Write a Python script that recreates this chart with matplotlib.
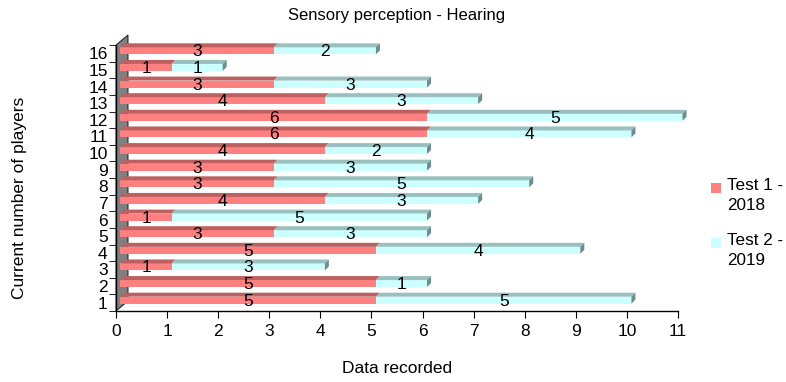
import matplotlib

matplotlib.use("Agg")
import matplotlib.pyplot as plt  # noqa: E402
from matplotlib.patches import Polygon, Rectangle  # noqa: E402
from matplotlib.transforms import IdentityTransform  # noqa: E402

plt.rcParams["font.family"] = ["Liberation Sans", "DejaVu Sans"]

players = list(range(1, 17))
test1_2018 = [5, 5, 1, 5, 3, 1, 4, 3, 3, 4, 6, 6, 4, 3, 1, 3]
test2_2019 = [5, 1, 3, 4, 3, 5, 3, 5, 3, 2, 4, 5, 3, 3, 1, 2]
series_names = ["Test 1 -\n2018", "Test 2 -\n2019"]

front_colors = ["#ff8080", "#ccffff"]
top_colors = ["#bf6060", "#99bfbf"]
side_colors = ["#bf6060", "#6e8c8c"]
wall_color = "#808080"

W, H = 786, 382
fig = plt.figure(figsize=(W / 100, H / 100), dpi=100)
left, right, bottom, top = 116, 678, 311, 45
ax = fig.add_axes([left / W, 1 - bottom / H, (right - left) / W, (bottom - top) / H])
ax.set_xlim(0, 11)
ax.set_ylim(0.5, 16.5)
for side in ["top", "right"]:
    ax.spines[side].set_visible(False)
ax.spines["left"].set_linewidth(1.0)
ax.spines["bottom"].set_linewidth(1.0)
ax.set_xticks(range(0, 12))
ax.tick_params(axis="x", direction="out", length=5, labelsize=12.5, pad=4)
ax.set_yticks(players)
ax.set_yticklabels([str(p) for p in players])
ax.tick_params(axis="y", length=0, labelsize=12.5, pad=6)
ax.set_yticks([p + 0.5 for p in range(0, 17)], minor=True)
ax.tick_params(axis="y", which="minor", direction="out", length=5)
ax.set_facecolor("none")

ax.set_title("Sensory perception - Hearing", fontsize=12, pad=18)
ax.set_xlabel("Data recorded", fontsize=12.5, labelpad=16)
ax.set_ylabel("Current number of players", fontsize=12.5)
ax.yaxis.set_label_coords(-0.158, 0.425)

ident = IdentityTransform()
to_px = ax.transData.transform

# back wall behind the bars
wdx, wdy = 12, 10
x0, y0 = to_px((0, 0.5))
x1, y1 = to_px((0, 16.5))
ax.add_patch(Polygon([(x0, y0), (x0, y1), (x0 + wdx, y1 + wdy), (x0 + wdx, y0 + wdy)],
                     closed=True, facecolor=wall_color, edgecolor="black", lw=0.6,
                     transform=ident, clip_on=False, zorder=1))

# bars: front face shifted into the depth, plus top and right faces
fx, fy = 4.5, 2.5
ddx, ddy = 4, 4
bar_h = 0.42
for p, v1, v2 in zip(players, test1_2018, test2_2019):
    start = 0
    segs = [(0, v1), (1, v2)]
    for i, (k, v) in enumerate(segs):
        xa, yb = to_px((start, p - bar_h / 2))
        xb, yt = to_px((start + v, p + bar_h / 2))
        xa, xb = xa + fx, xb + fx
        yb, yt = yb + fy, yt + fy
        ax.add_patch(Rectangle((xa, yb), xb - xa, yt - yb, facecolor=front_colors[k],
                               edgecolor="none", transform=ident, clip_on=False, zorder=3))
        ax.add_patch(Polygon([(xa, yt), (xb, yt), (xb + ddx, yt + ddy), (xa + ddx, yt + ddy)],
                             closed=True, facecolor=top_colors[k], edgecolor="none",
                             transform=ident, clip_on=False, zorder=3))
        if k == len(segs) - 1:
            ax.add_patch(Polygon([(xb, yb), (xb, yt), (xb + ddx, yt + ddy), (xb + ddx, yb + ddy)],
                                 closed=True, facecolor=side_colors[k], edgecolor="none",
                                 transform=ident, clip_on=False, zorder=3))
        ax.text((xa + xb) / 2, (yb + yt) / 2 - 1, str(v), transform=ident,
                ha="center", va="center", fontsize=12.5, zorder=4)
        start += v

# legend
for k, (name, ypix) in enumerate(zip(series_names, [188, 243])):
    fig.patches.append(Rectangle((711, H - ypix - 5), 10, 10, facecolor=front_colors[k],
                                 edgecolor="none", transform=ident, figure=fig))
    fig.text(727 / W, 1 - (ypix - 10) / H, name, fontsize=12.3, va="top", ha="left",
             linespacing=1.45)

fig.savefig("out.png", dpi=100)
